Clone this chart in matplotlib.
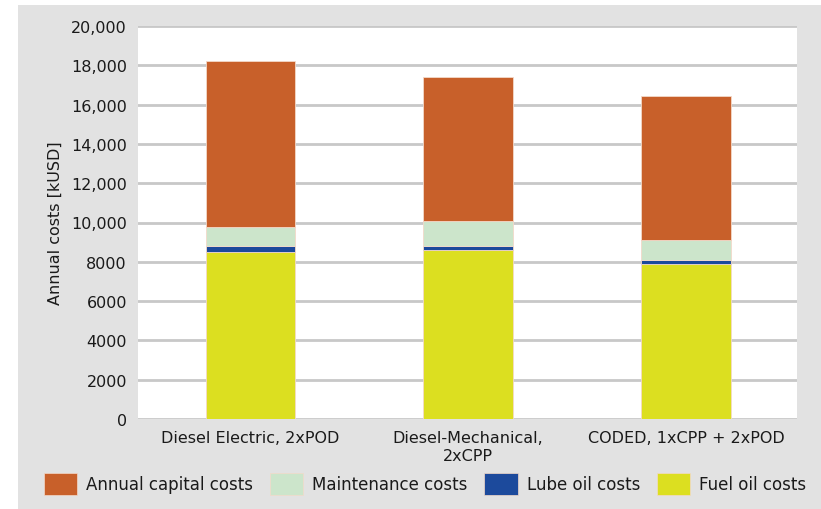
import numpy as np
import matplotlib.pyplot as plt
from matplotlib.patches import Rectangle, Patch
from matplotlib.ticker import FuncFormatter

plt.rcParams['font.family'] = ['DejaVu Sans']

configs = ["Diesel Electric, 2xPOD", "Diesel-Mechanical,\n2xCPP", "CODED, 1xCPP + 2xPOD"]
fuel_oil = [8500, 8590, 7890]
lube_oil = [290, 200, 190]
maintenance = [990, 1280, 1020]
capital = [8450, 7360, 7340]

series = [
    ("Fuel oil costs", fuel_oil, "#dcdf20"),
    ("Lube oil costs", lube_oil, "#1c4a9c"),
    ("Maintenance costs", maintenance, "#cce5cb"),
    ("Annual capital costs", capital, "#c8602a"),
]

FS = 11.5
TXT = "#1a1a1a"

fig = plt.figure(figsize=(8.21, 5.10), dpi=100)
fig.patches.append(Rectangle((18 / 821, 0), 1, 504 / 510, transform=fig.transFigure,
                             facecolor="#e2e2e2", edgecolor="none", zorder=-10))

ax = fig.add_axes([138 / 821, 90 / 510, 659 / 821, 393 / 510])
ax.set_facecolor("white")

x = np.arange(len(configs))
bottom = np.zeros(len(configs))
for name, vals, color in series:
    ax.bar(x, vals, width=0.41, bottom=bottom, color=color, edgecolor="#f3d9c9",
           linewidth=0.6, zorder=3)
    bottom += np.array(vals)

ax.set_xlim(-0.515, 2.51)
ax.set_ylim(0, 20000)
ax.set_yticks(np.arange(0, 20001, 2000))
ax.yaxis.set_major_formatter(FuncFormatter(lambda v, p: f"{v:,.0f}" if v >= 10000 else f"{v:.0f}"))
ax.yaxis.grid(True, color="#c8c8c8", linewidth=2, zorder=1)
ax.set_axisbelow(True)
for s in ax.spines.values():
    s.set_visible(False)
ax.tick_params(axis="y", length=0, pad=8, labelsize=FS, colors=TXT)
ax.tick_params(axis="x", length=0, pad=8, labelsize=FS, colors=TXT)
ax.set_xticks(x)
ax.set_xticklabels(configs, linespacing=1.25)
ax.set_ylabel("Annual costs [kUSD]", fontsize=FS, color=TXT, labelpad=6)

handles = [Patch(facecolor=c, edgecolor="#f3d9c9", linewidth=0.5) for _, _, c in series[::-1]]
labels = [n for n, _, _ in series[::-1]]
fig.legend(handles, labels, loc="center", bbox_to_anchor=(425 / 821, 1 - 485 / 510), ncol=4,
           frameon=False, fontsize=12, handlelength=2.0, handleheight=1.6,
           handletextpad=0.55, columnspacing=1.0, labelcolor=TXT)

fig.savefig("out.png", dpi=100)
